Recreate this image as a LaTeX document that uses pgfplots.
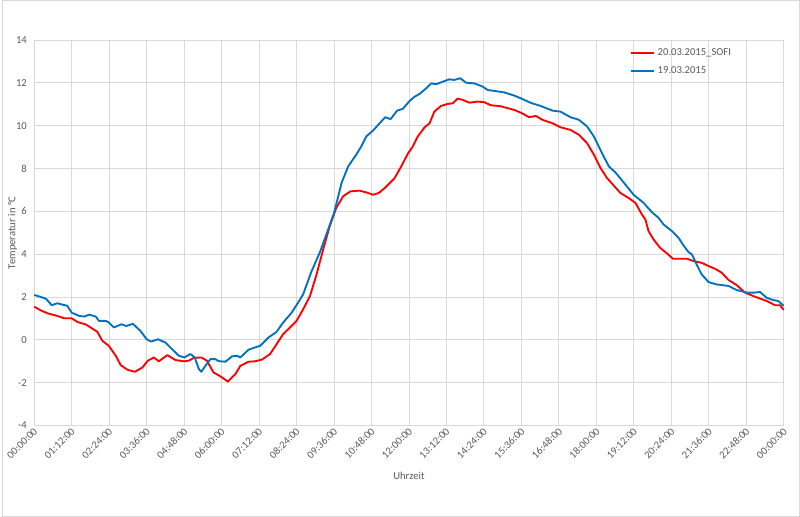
\documentclass[border=0pt]{standalone}
\usepackage{pgfplots}
\pgfplotsset{compat=1.18}
\usepackage{fontspec}
\setmainfont{Carlito}

\definecolor{gridgrey}{HTML}{D9D9D9}
\definecolor{textgrey}{HTML}{595959}
\definecolor{xlred}{HTML}{FF0000}
\definecolor{xlblue}{HTML}{0070C0}

\begin{document}
\begin{tikzpicture}
  \draw[gridgrey] (0,0) rectangle (600pt,388.5pt);
  \begin{axis}[
    at={(24pt,68.5pt)}, anchor=south west,
    scale only axis,
    width=564pt, height=290pt,
    xmin=0, xmax=24, ymin=-4, ymax=14,
    xtick={0,1.2,2.4,3.6,4.8,6,7.2,8.4,9.6,10.8,12,13.2,14.4,15.6,16.8,18,19.2,20.4,21.6,22.8,24},
    xticklabels={00:00:00,01:12:00,02:24:00,03:36:00,04:48:00,06:00:00,07:12:00,08:24:00,09:36:00,10:48:00,12:00:00,13:12:00,14:24:00,15:36:00,16:48:00,18:00:00,19:12:00,20:24:00,21:36:00,22:48:00,00:00:00},
    ytick={-4,-2,0,2,4,6,8,10,12,14},
    yticklabels={-4,-2,0,2,4,6,8,10,12,14},
    major tick length=0pt,
    grid=major,
    grid style={gridgrey, line width=0.75pt},
    axis line style={gridgrey, line width=0.75pt},
    tick label style={textgrey, font=\footnotesize},
    xticklabel style={rotate=45, anchor=east, yshift=-3pt, xshift=2pt},
    yticklabel style={xshift=-2pt},
    xlabel={Uhrzeit},
    ylabel={Temperatur in °C},
    label style={textgrey, font=\footnotesize},
    xlabel style={at={(axis description cs:0.5,-0.13)}, anchor=center},
    ylabel style={at={(axis description cs:-0.029,0.5)}, anchor=center},
    legend style={draw=none, fill=none, font=\footnotesize, text=textgrey,
      at={(rel axis cs:0.795,0.985)}, anchor=north west,
      row sep=3pt, inner sep=0pt},
    legend cell align=left,
    legend image post style={line width=1.5pt},
  ]
  \addplot[color=xlred, line width=1.4pt, line join=round, mark=none] coordinates {
    (0,1.55) (0.21,1.38) (0.43,1.24) (0.74,1.12) (0.96,1.01) (1.2,1.01)
    (1.38,0.84) (1.65,0.72) (1.86,0.53) (2.02,0.38) (2.18,-0.04) (2.39,-0.28)
    (2.61,-0.74) (2.77,-1.18) (2.98,-1.39) (3.22,-1.49) (3.46,-1.29) (3.64,-0.97)
    (3.83,-0.82) (3.99,-1.0) (4.26,-0.71) (4.52,-0.94) (4.79,-1.0) (4.95,-0.97)
    (5.11,-0.84) (5.35,-0.82) (5.53,-0.97) (5.74,-1.52) (5.96,-1.7) (6.06,-1.8)
    (6.2,-1.95) (6.33,-1.75) (6.44,-1.6) (6.6,-1.21) (6.86,-1.02) (7.07,-1.0)
    (7.29,-0.92) (7.55,-0.66) (7.76,-0.2) (7.97,0.27) (8.19,0.58) (8.4,0.89)
    (8.61,1.43) (8.83,2.05) (9.04,3.06) (9.25,4.22) (9.46,5.31) (9.67,6.16)
    (9.89,6.71) (10.13,6.94) (10.42,6.97) (10.63,6.89) (10.85,6.78) (11.03,6.86)
    (11.22,7.09) (11.54,7.56) (11.75,8.1) (11.96,8.69) (12.12,9.03) (12.28,9.5)
    (12.5,9.93) (12.66,10.12) (12.81,10.66) (13.03,10.93) (13.24,11.02) (13.4,11.05)
    (13.56,11.27) (13.72,11.21) (13.93,11.08) (14.2,11.13) (14.41,11.1) (14.62,10.96)
    (14.94,10.91) (15.37,10.74) (15.6,10.6) (15.84,10.4) (16.06,10.46) (16.27,10.28)
    (16.59,10.12) (16.85,9.93) (17.17,9.81) (17.44,9.58) (17.7,9.19) (17.92,8.65)
    (18.13,8.03) (18.34,7.56) (18.56,7.2) (18.77,6.86) (19.03,6.63) (19.25,6.4)
    (19.46,5.85) (19.57,5.62) (19.67,5.08) (19.83,4.69) (20.04,4.3) (20.26,4.04)
    (20.45,3.79) (20.68,3.79) (20.9,3.79) (21.11,3.68) (21.37,3.6) (21.59,3.45)
    (21.8,3.32) (22.01,3.14) (22.23,2.8) (22.49,2.56) (22.76,2.21) (23.02,2.05)
    (23.24,1.93) (23.45,1.82) (23.72,1.62) (23.88,1.62) (24.0,1.4)
  };
  \addlegendentry{20.03.2015\_SOFI}
  \addplot[color=xlblue, line width=1.4pt, line join=round, mark=none] coordinates {
    (0,2.1) (0.37,1.93) (0.56,1.62) (0.74,1.71) (1.06,1.59) (1.2,1.27)
    (1.44,1.12) (1.6,1.09) (1.76,1.18) (1.97,1.09) (2.07,0.89) (2.29,0.89)
    (2.39,0.81) (2.55,0.58) (2.79,0.73) (2.95,0.65) (3.16,0.75) (3.4,0.42)
    (3.6,0.03) (3.74,-0.08) (3.96,0.03) (4.2,-0.12) (4.41,-0.43) (4.63,-0.74)
    (4.81,-0.82) (5.0,-0.66) (5.14,-0.82) (5.27,-1.36) (5.35,-1.49) (5.48,-1.21)
    (5.64,-0.9) (5.8,-0.9) (5.9,-0.99) (6.12,-1.02) (6.33,-0.77) (6.49,-0.74)
    (6.6,-0.82) (6.86,-0.46) (7.07,-0.35) (7.23,-0.28) (7.39,-0.05) (7.5,0.11)
    (7.76,0.38) (7.97,0.81) (8.24,1.27) (8.45,1.74) (8.61,2.13) (8.88,3.21)
    (9.14,4.07) (9.41,5.15) (9.6,5.93) (9.84,7.33) (10.05,8.1) (10.31,8.65)
    (10.47,9.03) (10.63,9.5) (10.85,9.78) (11.06,10.12) (11.24,10.4) (11.41,10.31)
    (11.62,10.71) (11.8,10.79) (12.02,11.16) (12.18,11.36) (12.34,11.49) (12.55,11.75)
    (12.71,11.98) (12.87,11.94) (13.08,12.06) (13.29,12.17) (13.45,12.14) (13.64,12.22)
    (13.83,12.01) (14.09,11.98) (14.36,11.83) (14.52,11.67) (14.73,11.63) (15.05,11.56)
    (15.37,11.41) (15.6,11.27) (15.9,11.07) (16.21,10.93) (16.59,10.71) (16.85,10.66)
    (17.17,10.4) (17.44,10.28) (17.7,9.97) (17.92,9.5) (18.18,8.72) (18.4,8.1)
    (18.61,7.82) (18.87,7.36) (19.19,6.78) (19.51,6.4) (19.78,5.96) (19.99,5.7)
    (20.15,5.39) (20.42,5.08) (20.63,4.77) (20.79,4.41) (20.95,4.1) (21.06,3.99)
    (21.21,3.52) (21.37,3.06) (21.59,2.7) (21.85,2.59) (22.23,2.52) (22.49,2.33)
    (22.81,2.21) (23.08,2.21) (23.24,2.24) (23.45,1.97) (23.66,1.86) (23.82,1.82)
    (24.0,1.59)
  };
  \addlegendentry{19.03.2015}
  \end{axis}
\end{tikzpicture}
\end{document}
